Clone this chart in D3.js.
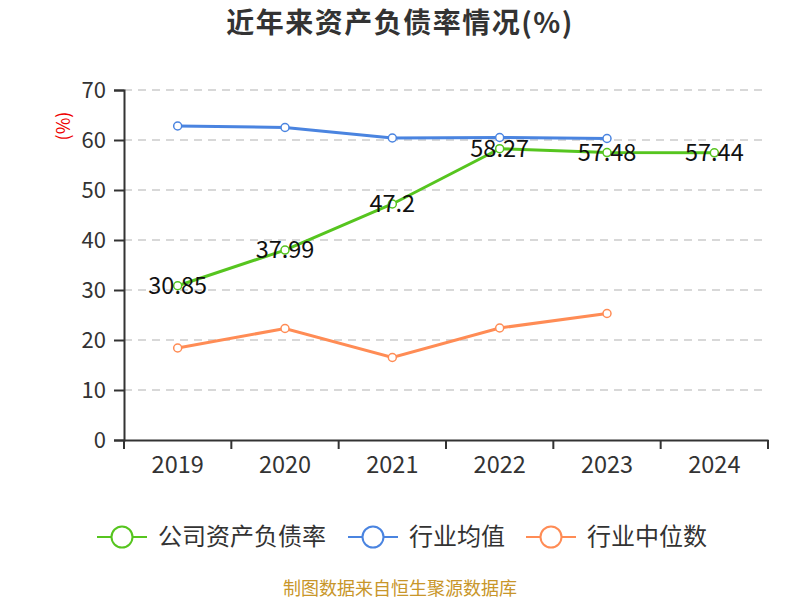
<!DOCTYPE html>
<html>
<head>
<meta charset="utf-8">
<script src="https://cdn.jsdelivr.net/npm/d3@7"></script>
<style>
  body { margin: 0; background: #fff; }
  text { font-family: "Noto Sans CJK SC", "Noto Sans", sans-serif; }
</style>
</head>
<body>
<svg id="chart"></svg>
<script>
'use strict';

var years = ['2019', '2020', '2021', '2022', '2023', '2024'];
var companyRate = [30.85, 37.99, 47.2, 58.27, 57.48, 57.44];
var industryAvg = [62.8, 62.5, 60.4, 60.5, 60.3];
var industryMedian = [18.4, 22.3, 16.5, 22.4, 25.3];
var yTicks = [0, 10, 20, 30, 40, 50, 60, 70];

var width = 800;
var height = 600;
var margin = { left: 124, right: 32, top: 90, bottom: 160 };
var numFont = '"Open Sans", sans-serif';

var svg = d3.select('#chart')
  .attr('width', width)
  .attr('height', height);

var x = d3.scaleBand()
  .domain(years)
  .range([margin.left, width - margin.right]);

var y = d3.scaleLinear()
  .domain([0, 70])
  .range([height - margin.bottom, margin.top]);

// title
svg.append('text')
  .attr('x', 400)
  .attr('y', 33)
  .attr('text-anchor', 'middle')
  .attr('font-size', 28)
  .attr('letter-spacing', 1.5)
  .attr('font-weight', 'bold')
  .attr('fill', '#333')
  .text('近年来资产负债率情况(%)');

// grid lines
svg.append('g')
  .selectAll('line')
  .data(yTicks.filter(function(d) { return d > 0; }))
  .join('line')
  .attr('x1', margin.left)
  .attr('x2', width - margin.right)
  .attr('y1', function(d) { return y(d); })
  .attr('y2', function(d) { return y(d); })
  .attr('stroke', '#ccc')
  .attr('stroke-width', 1.5)
  .attr('stroke-dasharray', '8,6');

// y axis
var yAxis = svg.append('g')
  .attr('transform', 'translate(' + margin.left + ',0)')
  .call(d3.axisLeft(y).tickValues(yTicks).tickSize(10).tickPadding(8));
yAxis.select('.domain').attr('stroke', '#333').attr('stroke-width', 2);
yAxis.selectAll('.tick line').attr('stroke', '#333').attr('stroke-width', 2);
yAxis.selectAll('.tick text')
  .attr('font-size', 22)
  .attr('fill', '#333')
  .attr('font-family', numFont);

// x axis
var xAxis = svg.append('g')
  .attr('transform', 'translate(0,' + y(0) + ')')
  .call(d3.axisBottom(x).tickSize(0).tickPadding(16));
xAxis.select('.domain').attr('stroke', '#333').attr('stroke-width', 2);
xAxis.selectAll('.tick text')
  .attr('font-size', 23.5)
  .attr('fill', '#333')
  .attr('font-family', numFont);

// x boundary ticks
var bounds = years.map(function(d) { return x(d); }).concat([x.range()[1]]);
svg.append('g')
  .selectAll('line')
  .data(bounds)
  .join('line')
  .attr('x1', function(d) { return d; })
  .attr('x2', function(d) { return d; })
  .attr('y1', y(0))
  .attr('y2', y(0) + 9)
  .attr('stroke', '#333')
  .attr('stroke-width', 2);

// y axis unit label
svg.append('text')
  .attr('transform', 'translate(70,126) rotate(-90)')
  .attr('text-anchor', 'middle')
  .attr('font-size', 18)
  .attr('fill', '#e00')
  .attr('font-family', numFont)
  .text('(%)');

var cx = function(i) { return x(years[i]) + x.bandwidth() / 2; };

var series = [
  { name: '公司资产负债率', values: companyRate, color: '#56c51f' },
  { name: '行业均值', values: industryAvg, color: '#4a84e0' },
  { name: '行业中位数', values: industryMedian, color: '#ff8c55' }
];

var line = d3.line()
  .x(function(d, i) { return cx(i); })
  .y(function(d) { return y(d); });

// draw in reverse so company line sits on top
series.slice().reverse().forEach(function(s) {
  var g = svg.append('g');
  g.append('path')
    .datum(s.values)
    .attr('d', line)
    .attr('fill', 'none')
    .attr('stroke', s.color)
    .attr('stroke-width', 3);
  g.selectAll('circle')
    .data(s.values)
    .join('circle')
    .attr('cx', function(d, i) { return cx(i); })
    .attr('cy', function(d) { return y(d); })
    .attr('r', 4)
    .attr('fill', '#fff')
    .attr('stroke', s.color)
    .attr('stroke-width', 1.5);
});

// value labels for company series
svg.append('g')
  .selectAll('text')
  .data(companyRate)
  .join('text')
  .attr('x', function(d, i) { return cx(i); })
  .attr('y', function(d) { return y(d); })
  .attr('dy', '0.35em')
  .attr('text-anchor', 'middle')
  .attr('font-size', 23.5)
  .attr('fill', '#111')
  .attr('font-family', numFont)
  .text(function(d) { return d; });

// legend
var legendX = [97, 348, 526];
var legend = svg.append('g')
  .selectAll('g')
  .data(series)
  .join('g')
  .attr('transform', function(d, i) { return 'translate(' + legendX[i] + ',537)'; });
legend.append('line')
  .attr('x1', 0).attr('x2', 50)
  .attr('stroke', function(d) { return d.color; })
  .attr('stroke-width', 2);
legend.append('circle')
  .attr('cx', 25).attr('r', 10.5)
  .attr('fill', '#fff')
  .attr('stroke', function(d) { return d.color; })
  .attr('stroke-width', 2);
legend.append('text')
  .attr('x', 61)
  .attr('dy', '0.35em')
  .attr('font-size', 24)
  .attr('fill', '#333')
  .text(function(d) { return d.name; });

// footer
svg.append('text')
  .attr('x', 400)
  .attr('y', 595)
  .attr('text-anchor', 'middle')
  .attr('font-size', 18)
  .attr('fill', '#c8962a')
  .text('制图数据来自恒生聚源数据库');
</script>
</body>
</html>
